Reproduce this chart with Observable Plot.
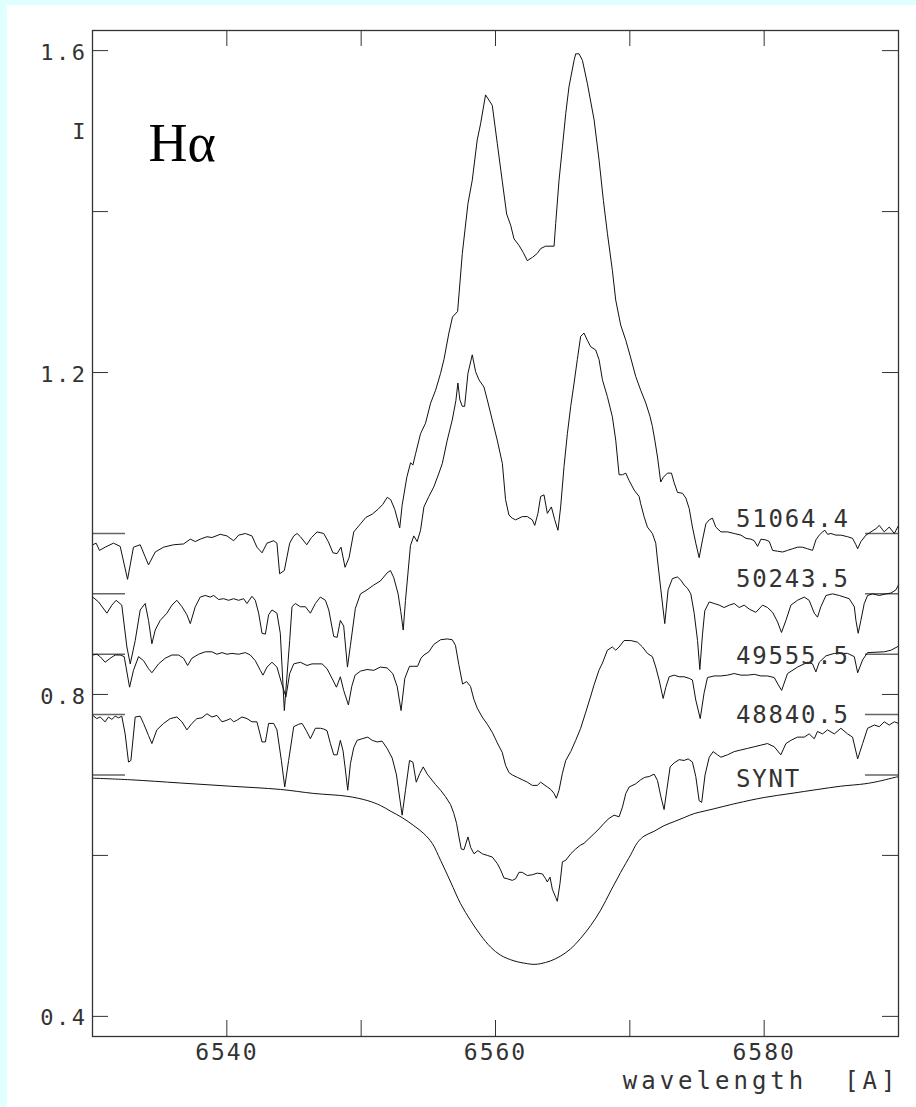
<!DOCTYPE html>
<html><head><meta charset="utf-8">
<script src="https://cdn.jsdelivr.net/npm/d3@7"></script>
<script src="https://cdn.jsdelivr.net/npm/@observablehq/plot@0.6"></script>
<style>
html,body{margin:0;padding:0;background:#e0ffff;width:916px;height:1107px;overflow:hidden;}
#wrap{position:absolute;left:7px;top:5px;width:909px;height:1102px;background:#fff;}
</style></head><body><div id="wrap"></div>
<script>
// ---- data (wavelength [A], normalized intensity) ----
const seriesNames = ["51064.4", "50243.5", "49555.5", "48840.5", "SYNT"];
const seriesOffsets = [0, -0.075, -0.15, -0.225, -0.30];

const spec51064 = [[6530.02,0.986],[6530.27,0.988],[6530.52,0.979],[6530.94,0.983],[6531.56,0.988],[6532.06,0.984],[6532.61,0.943],[6533.05,0.983],[6533.55,0.986],[6533.92,0.971],[6534.17,0.961],[6534.67,0.977],[6535.29,0.983],[6536.03,0.986],[6536.78,0.987],[6537.28,0.993],[6537.65,0.990],[6538.02,0.993],[6538.52,0.996],[6538.89,0.995],[6539.51,0.999],[6540.01,0.997],[6540.51,0.991],[6540.88,0.998],[6541.38,1.000],[6541.87,0.997],[6542.24,0.983],[6542.62,0.976],[6542.99,0.988],[6543.49,0.991],[6543.73,0.988],[6543.93,0.950],[6544.28,0.954],[6544.68,0.988],[6544.98,0.997],[6545.23,1.000],[6545.48,0.996],[6545.95,0.986],[6546.30,0.995],[6546.72,1.002],[6547.21,1.000],[6547.55,0.990],[6547.90,0.976],[6548.20,0.975],[6548.50,0.983],[6548.80,0.958],[6549.10,0.970],[6549.45,1.002],[6549.95,1.012],[6550.35,1.020],[6550.82,1.024],[6551.25,1.030],[6551.60,1.036],[6551.94,1.045],[6552.20,1.042],[6552.50,1.030],[6552.87,1.007],[6553.05,1.035],[6553.40,1.070],[6553.68,1.088],[6553.85,1.085],[6554.05,1.099],[6554.42,1.124],[6554.79,1.137],[6555.17,1.162],[6555.54,1.178],[6555.91,1.199],[6556.16,1.216],[6556.53,1.249],[6556.80,1.269],[6557.18,1.276],[6557.53,1.348],[6557.95,1.410],[6558.27,1.439],[6558.64,1.489],[6558.89,1.509],[6559.26,1.545],[6559.76,1.532],[6560.13,1.485],[6560.51,1.437],[6560.83,1.397],[6561.13,1.383],[6561.38,1.366],[6561.75,1.358],[6562.07,1.349],[6562.37,1.339],[6562.74,1.343],[6563.11,1.348],[6563.36,1.354],[6563.73,1.357],[6564.36,1.357],[6564.48,1.385],[6564.73,1.439],[6564.98,1.480],[6565.23,1.522],[6565.47,1.555],[6565.85,1.588],[6565.97,1.596],[6566.22,1.596],[6566.47,1.588],[6566.84,1.559],[6567.34,1.514],[6567.71,1.464],[6568.03,1.414],[6568.33,1.373],[6568.70,1.327],[6568.95,1.290],[6569.32,1.259],[6569.70,1.240],[6570.07,1.218],[6570.44,1.195],[6570.81,1.178],[6571.19,1.162],[6571.51,1.145],[6571.68,1.133],[6571.86,1.116],[6572.06,1.095],[6572.30,1.064],[6572.50,1.070],[6572.80,1.075],[6573.10,1.075],[6573.30,1.063],[6573.55,1.051],[6573.92,1.050],[6574.17,1.044],[6574.42,1.031],[6574.66,1.008],[6574.91,0.988],[6575.16,0.970],[6575.41,0.992],[6575.66,1.012],[6575.91,1.017],[6576.15,1.019],[6576.40,1.008],[6576.78,1.002],[6577.27,1.002],[6577.77,1.000],[6578.27,0.998],[6578.64,0.994],[6579.01,0.993],[6579.26,0.991],[6579.51,0.984],[6579.76,0.993],[6580.13,0.992],[6580.38,0.990],[6580.63,0.979],[6581.00,0.978],[6581.37,0.977],[6581.74,0.979],[6582.11,0.981],[6582.48,0.983],[6582.86,0.983],[6583.23,0.981],[6583.60,0.979],[6583.85,0.992],[6584.10,0.998],[6584.35,1.002],[6584.52,1.004],[6584.72,0.999],[6584.97,1.000],[6585.34,0.998],[6585.71,0.998],[6586.21,0.996],[6586.58,0.994],[6586.83,0.986],[6586.96,0.981],[6587.20,0.990],[6587.58,0.998],[6587.95,1.002],[6588.32,1.006],[6588.57,1.010],[6588.94,1.002],[6589.31,1.008],[6589.69,1.000],[6590.00,1.010]];

const spec50243 = [[6530.02,0.996],[6530.45,0.990],[6531.07,0.976],[6531.44,0.986],[6531.76,0.992],[6532.18,0.986],[6532.56,0.934],[6532.81,0.913],[6533.18,0.942],[6533.55,0.980],[6533.92,0.988],[6534.17,0.967],[6534.42,0.938],[6534.67,0.955],[6535.04,0.967],[6535.54,0.976],[6535.91,0.986],[6536.28,0.992],[6536.66,0.984],[6537.03,0.974],[6537.28,0.963],[6537.65,0.984],[6538.02,0.996],[6538.39,0.998],[6538.77,0.996],[6539.02,0.998],[6539.39,0.993],[6539.76,0.994],[6540.13,0.992],[6540.51,0.994],[6540.88,0.992],[6541.25,0.994],[6541.50,0.988],[6541.87,0.997],[6542.12,0.992],[6542.37,0.976],[6542.62,0.951],[6542.87,0.950],[6543.11,0.974],[6543.36,0.980],[6543.73,0.976],[6543.98,0.951],[6544.28,0.855],[6544.68,0.942],[6544.85,0.984],[6545.10,0.988],[6545.47,0.984],[6545.85,0.984],[6546.22,0.976],[6546.59,0.988],[6546.96,0.996],[6547.34,0.992],[6547.59,0.980],[6547.96,0.947],[6548.21,0.946],[6548.45,0.967],[6548.70,0.960],[6548.98,0.909],[6549.20,0.936],[6549.57,0.982],[6549.95,1.000],[6550.44,1.005],[6550.94,1.011],[6551.43,1.016],[6551.93,1.026],[6552.18,1.029],[6552.43,1.020],[6552.75,1.000],[6552.95,0.978],[6553.13,0.955],[6553.30,0.992],[6553.67,1.060],[6553.92,1.072],[6554.17,1.065],[6554.42,1.079],[6554.67,1.108],[6555.04,1.121],[6555.41,1.133],[6555.79,1.150],[6556.04,1.162],[6556.41,1.191],[6556.78,1.216],[6557.05,1.240],[6557.20,1.262],[6557.35,1.241],[6557.53,1.233],[6557.70,1.233],[6557.95,1.274],[6558.27,1.297],[6558.52,1.276],[6558.77,1.266],[6559.14,1.257],[6559.39,1.241],[6559.76,1.216],[6560.13,1.191],[6560.51,1.162],[6560.75,1.117],[6561.00,1.098],[6561.25,1.094],[6561.50,1.092],[6561.75,1.094],[6561.99,1.096],[6562.37,1.096],[6562.74,1.092],[6562.92,1.085],[6563.16,1.100],[6563.36,1.121],[6563.61,1.123],[6563.86,1.100],[6564.16,1.108],[6564.41,1.092],[6564.65,1.079],[6564.85,1.108],[6565.10,1.158],[6565.35,1.199],[6565.60,1.233],[6565.85,1.262],[6566.09,1.291],[6566.34,1.320],[6566.59,1.324],[6566.84,1.315],[6567.09,1.307],[6567.46,1.303],[6567.71,1.291],[6567.96,1.266],[6568.33,1.245],[6568.70,1.220],[6568.95,1.191],[6569.20,1.148],[6569.45,1.148],[6569.70,1.150],[6569.94,1.141],[6570.32,1.129],[6570.69,1.121],[6570.81,1.112],[6571.06,1.096],[6571.31,1.083],[6571.68,1.075],[6571.93,1.063],[6572.06,1.042],[6572.31,1.005],[6572.60,0.963],[6572.85,1.005],[6573.17,1.019],[6573.55,1.021],[6573.80,1.017],[6574.04,1.011],[6574.29,1.007],[6574.54,1.000],[6574.79,0.976],[6575.04,0.942],[6575.21,0.906],[6575.41,0.950],[6575.58,0.979],[6575.91,0.990],[6576.28,0.988],[6576.65,0.986],[6577.02,0.983],[6577.40,0.986],[6577.77,0.988],[6578.14,0.983],[6578.51,0.986],[6578.89,0.981],[6579.38,0.977],[6579.88,0.986],[6580.25,0.983],[6580.63,0.977],[6581.00,0.965],[6581.29,0.952],[6581.62,0.967],[6581.99,0.986],[6582.48,0.992],[6582.98,0.996],[6583.35,0.992],[6583.73,0.976],[6583.97,0.971],[6584.22,0.984],[6584.60,0.998],[6585.09,1.000],[6585.59,0.998],[6585.96,0.996],[6586.33,0.994],[6586.71,0.984],[6586.83,0.967],[6587.00,0.951],[6587.20,0.967],[6587.45,0.988],[6587.70,0.998],[6588.07,1.000],[6588.57,0.998],[6589.07,1.000],[6589.44,1.001],[6589.81,1.005],[6590.00,1.011]];

const spec49555 = [[6530.02,0.999],[6530.32,1.000],[6530.57,0.997],[6530.94,0.990],[6531.32,0.995],[6531.69,0.999],[6532.06,0.999],[6532.36,0.997],[6532.76,0.959],[6533.05,0.980],[6533.43,0.997],[6533.80,0.992],[6534.17,0.982],[6534.42,0.977],[6534.92,0.988],[6535.41,0.995],[6535.91,0.999],[6536.41,0.999],[6536.78,0.995],[6537.08,0.986],[6537.40,0.995],[6537.90,1.000],[6538.39,1.003],[6538.89,1.003],[6539.26,1.000],[6539.64,1.002],[6540.01,1.000],[6540.38,1.001],[6540.88,1.000],[6541.38,1.002],[6541.75,0.999],[6542.12,0.992],[6542.49,0.980],[6542.69,0.974],[6542.99,0.984],[6543.36,0.990],[6543.73,0.984],[6544.06,0.965],[6544.40,0.947],[6544.68,0.976],[6544.98,0.988],[6545.47,0.990],[6545.97,0.986],[6546.34,0.988],[6546.72,0.988],[6547.09,0.988],[6547.46,0.982],[6547.83,0.970],[6548.16,0.959],[6548.45,0.972],[6548.70,0.955],[6549.05,0.937],[6549.30,0.960],[6549.55,0.974],[6549.95,0.979],[6550.44,0.981],[6550.94,0.980],[6551.43,0.984],[6551.93,0.983],[6552.35,0.976],[6552.68,0.960],[6552.97,0.930],[6553.25,0.970],[6553.60,0.985],[6553.92,0.985],[6554.20,0.985],[6554.45,0.995],[6554.67,0.999],[6555.04,1.003],[6555.40,1.012],[6555.91,1.018],[6556.40,1.019],[6556.78,1.018],[6557.02,1.011],[6557.27,0.987],[6557.55,0.963],[6557.85,0.966],[6558.14,0.960],[6558.39,0.944],[6558.64,0.933],[6559.01,0.922],[6559.39,0.913],[6559.76,0.903],[6560.13,0.890],[6560.50,0.878],[6560.75,0.862],[6561.00,0.853],[6561.25,0.850],[6561.62,0.847],[6562.00,0.844],[6562.37,0.841],[6562.74,0.837],[6563.11,0.837],[6563.36,0.841],[6563.61,0.838],[6563.86,0.835],[6564.11,0.832],[6564.36,0.827],[6564.53,0.821],[6564.73,0.831],[6564.98,0.852],[6565.23,0.868],[6565.60,0.879],[6565.97,0.893],[6566.34,0.908],[6566.72,0.928],[6567.09,0.948],[6567.34,0.962],[6567.70,0.980],[6567.96,0.989],[6568.33,1.005],[6568.70,1.009],[6568.95,1.005],[6569.20,1.009],[6569.57,1.017],[6570.07,1.017],[6570.57,1.015],[6570.94,1.009],[6571.31,1.001],[6571.68,0.997],[6571.93,0.984],[6572.18,0.968],[6572.48,0.945],[6572.68,0.959],[6572.93,0.972],[6573.30,0.974],[6573.67,0.972],[6574.04,0.972],[6574.42,0.970],[6574.66,0.968],[6574.91,0.943],[6575.24,0.920],[6575.53,0.952],[6575.78,0.971],[6576.28,0.973],[6576.78,0.973],[6577.27,0.974],[6577.77,0.976],[6578.27,0.974],[6578.76,0.974],[6579.26,0.975],[6579.76,0.973],[6580.25,0.973],[6580.75,0.971],[6581.05,0.962],[6581.30,0.955],[6581.74,0.976],[6582.48,0.984],[6583.23,0.990],[6583.60,0.988],[6583.85,0.978],[6584.10,0.990],[6584.60,0.998],[6585.22,1.001],[6586.21,1.001],[6586.71,0.997],[6586.96,0.977],[6587.33,0.993],[6587.70,1.002],[6588.94,1.003],[6589.44,1.005],[6590.00,1.010]];

const spec48840 = [[6530.02,0.999],[6530.32,0.995],[6530.57,0.997],[6530.94,0.991],[6531.19,0.997],[6531.44,0.994],[6531.69,0.998],[6531.94,0.996],[6532.18,0.998],[6532.43,0.976],[6532.68,0.941],[6532.86,0.943],[6533.18,0.997],[6533.55,0.998],[6533.80,0.989],[6534.17,0.974],[6534.42,0.964],[6534.79,0.981],[6535.29,0.989],[6535.79,0.995],[6536.28,0.997],[6536.66,0.991],[6537.03,0.981],[6537.40,0.989],[6537.77,0.995],[6538.15,0.996],[6538.52,1.001],[6538.89,0.997],[6539.26,0.999],[6539.64,0.991],[6540.01,0.993],[6540.26,0.995],[6540.51,0.991],[6540.75,0.993],[6541.13,0.997],[6541.50,0.995],[6541.87,0.991],[6542.24,0.991],[6542.62,0.966],[6542.87,0.966],[6543.11,0.989],[6543.49,0.989],[6543.73,0.981],[6544.06,0.943],[6544.31,0.910],[6544.60,0.943],[6544.98,0.985],[6545.35,0.988],[6545.60,0.989],[6545.92,0.980],[6546.22,0.970],[6546.59,0.983],[6546.97,0.983],[6547.21,0.982],[6547.46,0.980],[6547.71,0.964],[6547.96,0.950],[6548.21,0.950],[6548.45,0.968],[6548.65,0.955],[6548.80,0.935],[6549.00,0.906],[6549.20,0.939],[6549.45,0.959],[6549.70,0.968],[6550.07,0.970],[6550.49,0.972],[6550.82,0.968],[6551.19,0.966],[6551.56,0.967],[6551.93,0.958],[6552.31,0.946],[6552.63,0.925],[6552.88,0.895],[6553.05,0.875],[6553.30,0.906],[6553.60,0.943],[6553.85,0.941],[6554.10,0.916],[6554.37,0.927],[6554.62,0.935],[6554.92,0.926],[6555.20,0.920],[6555.54,0.913],[6555.91,0.906],[6556.28,0.898],[6556.66,0.888],[6556.90,0.877],[6557.10,0.865],[6557.28,0.848],[6557.45,0.833],[6557.65,0.832],[6557.95,0.848],[6558.15,0.835],[6558.40,0.827],[6558.69,0.831],[6559.02,0.827],[6559.39,0.825],[6559.76,0.823],[6560.13,0.815],[6560.38,0.807],[6560.63,0.797],[6560.88,0.796],[6561.25,0.794],[6561.50,0.796],[6561.75,0.804],[6561.99,0.804],[6562.37,0.800],[6562.74,0.801],[6563.11,0.803],[6563.49,0.802],[6563.73,0.796],[6563.86,0.792],[6564.06,0.798],[6564.23,0.783],[6564.48,0.773],[6564.60,0.768],[6564.80,0.790],[6564.98,0.817],[6565.23,0.819],[6565.60,0.827],[6565.97,0.833],[6566.34,0.838],[6566.59,0.840],[6566.96,0.846],[6567.34,0.852],[6567.71,0.858],[6568.08,0.865],[6568.45,0.871],[6568.83,0.875],[6569.20,0.873],[6569.45,0.885],[6569.70,0.902],[6569.95,0.910],[6570.44,0.914],[6570.81,0.919],[6571.11,0.922],[6571.44,0.923],[6571.81,0.926],[6572.06,0.918],[6572.31,0.898],[6572.55,0.882],[6572.75,0.906],[6573.00,0.935],[6573.30,0.940],[6573.67,0.944],[6574.04,0.943],[6574.34,0.945],[6574.66,0.941],[6574.91,0.923],[6575.16,0.893],[6575.35,0.891],[6575.60,0.925],[6575.91,0.947],[6576.20,0.954],[6576.53,0.950],[6576.78,0.947],[6577.27,0.950],[6577.77,0.954],[6578.26,0.956],[6578.76,0.958],[6579.26,0.960],[6579.75,0.962],[6580.25,0.964],[6580.75,0.960],[6581.24,0.950],[6581.62,0.964],[6581.99,0.968],[6582.48,0.972],[6582.98,0.972],[6583.35,0.976],[6583.73,0.970],[6583.97,0.979],[6584.35,0.976],[6584.72,0.981],[6585.22,0.976],[6585.71,0.983],[6586.21,0.976],[6586.58,0.972],[6586.96,0.945],[6587.33,0.964],[6587.70,0.983],[6588.20,0.987],[6588.57,0.985],[6588.94,0.991],[6589.31,0.987],[6589.69,0.991],[6590.00,0.989]];

const specSynt = [[6530.00,0.996],[6532.81,0.994],[6536.53,0.990],[6540.26,0.986],[6543.98,0.982],[6546.47,0.977],[6548.95,0.9735],[6550.50,0.968],[6551.44,0.962],[6552.19,0.955],[6553.05,0.947],[6553.92,0.937],[6554.67,0.927],[6555.29,0.915],[6555.91,0.894],[6556.66,0.867],[6557.40,0.840],[6558.15,0.819],[6558.89,0.801],[6559.64,0.786],[6560.38,0.776],[6561.38,0.769],[6562.37,0.7655],[6562.87,0.7646],[6563.36,0.7655],[6564.11,0.769],[6564.85,0.775],[6565.60,0.784],[6566.34,0.797],[6567.09,0.813],[6567.83,0.832],[6568.58,0.856],[6569.32,0.879],[6570.07,0.901],[6570.57,0.916],[6571.06,0.924],[6571.81,0.930],[6572.55,0.937],[6573.30,0.942],[6574.04,0.947],[6574.79,0.952],[6575.53,0.955],[6576.28,0.958],[6577.00,0.961],[6578.00,0.965],[6580.00,0.972],[6582.00,0.977],[6584.00,0.982],[6585.70,0.986],[6587.50,0.989],[6588.50,0.992],[6589.50,0.996],[6590.00,0.998]];

const spectra = [spec51064, spec50243, spec49555, spec48840, specSynt];

// label placement (intensity of label baseline, wavelength of label start)
const labelX = 6577.9;
const labelY = [1.008, 0.934, 0.838, 0.764, 0.685];

// axes
const xDomain = [6530, 6590];
const yDomain = [0.375, 1.625];
const xTicks = [6540, 6550, 6560, 6570, 6580];
const xTickLabels = [6540, 6560, 6580];
const yTicks = [0.4, 0.6, 0.8, 1.0, 1.2, 1.4, 1.6];
const yTickLabels = [0.4, 0.8, 1.2, 1.6];
const yTitle = "I";
const yTitleAt = 1.5;
const xTitle = "wavelength  [A]";
const lineName = "Hα";

// ---- build ----
const rows = [];
spectra.forEach((s, i) => s.forEach(([wl, f]) => rows.push({series: seriesNames[i], wl, I: f + seriesOffsets[i], synt: i === 4})));
const levels = seriesOffsets.map(o => 1 + o);
const labels = seriesNames.map((n, i) => ({name: n, y: labelY[i]}));

const W = 909, H = 1102;
const mL = 85, mR = 18, mT = 25, mB = 71;
const iw = W - mL - mR, ih = H - mT - mB;
const tick = 16, cmark = 33;
const mono = "DejaVu Sans Mono";

const svg = Plot.plot({
  width: W, height: H,
  marginLeft: mL, marginRight: mR, marginTop: mT, marginBottom: mB,
  style: {background: "white", color: "#222", overflow: "visible"},
  x: {domain: xDomain, axis: null},
  y: {domain: yDomain, axis: null},
  marks: [
    // ticks (inward, all four sides)
    Plot.ruleX(xTicks, {x: d => d, insetTop: ih - tick, stroke: "#333", strokeWidth: 1}),
    Plot.ruleX(xTicks, {x: d => d, insetBottom: ih - tick, stroke: "#333", strokeWidth: 1}),
    Plot.ruleY(yTicks, {y: d => d, insetRight: iw - tick, stroke: "#333", strokeWidth: 1}),
    Plot.ruleY(yTicks, {y: d => d, insetLeft: iw - tick, stroke: "#333", strokeWidth: 1}),
    // continuum level markers
    Plot.ruleY(levels, {y: d => d, insetRight: iw - cmark, stroke: "#666", strokeWidth: 1.5}),
    Plot.ruleY(levels, {y: d => d, insetLeft: iw - cmark, stroke: "#666", strokeWidth: 1.5}),
    // spectra
    Plot.line(rows.filter(d => !d.synt), {x: "wl", y: "I", z: "series", stroke: "#111", strokeWidth: 1}),
    Plot.line(rows.filter(d => d.synt), {x: "wl", y: "I", stroke: "#111", strokeWidth: 1, curve: "catmull-rom"}),
    Plot.frame({stroke: "#333", strokeWidth: 1.3}),
    // curve labels
    Plot.text(labels, {x: () => labelX, y: "y", text: "name", textAnchor: "start", lineAnchor: "bottom",
      fontFamily: mono, fontSize: 24, fill: "#333", ariaDescription: "curve-labels"}),
    // tick labels
    Plot.text(xTickLabels, {x: d => d, text: d => String(d), frameAnchor: "bottom", lineAnchor: "bottom", dy: 23,
      fontFamily: mono, fontSize: 23, fill: "#333", ariaDescription: "xtick-labels"}),
    Plot.text(yTickLabels, {y: d => d, text: d => d.toFixed(1), frameAnchor: "left", textAnchor: "end", lineAnchor: "middle",
      dx: -5, dy: 2, fontFamily: mono, fontSize: 22, fill: "#333", ariaDescription: "ytick-labels"}),
    Plot.text([yTitle], {y: () => yTitleAt, text: d => d, frameAnchor: "left", textAnchor: "end", lineAnchor: "middle",
      dx: -7, dy: 1, fontFamily: mono, fontSize: 22, fill: "#333", ariaDescription: "ytitle"}),
    Plot.text([xTitle], {text: d => d, frameAnchor: "bottom-right", textAnchor: "end", lineAnchor: "bottom",
      dx: 1, dy: 52, fontFamily: mono, fontSize: 24, fill: "#333", ariaDescription: "xtitle"}),
    // line name
    Plot.text([lineName], {text: d => d, frameAnchor: "top-left", textAnchor: "start", lineAnchor: "bottom",
      dx: 56, dy: 130, fontFamily: "Liberation Serif", fontSize: 54, fill: "#000", ariaDescription: "linename"})
  ]
});

const sel = d3.select(svg);
const spacing = (name, px) => sel.selectAll(`[aria-description="${name}"] text`).style("letter-spacing", px);
spacing("curve-labels", "1.8px");
spacing("xtick-labels", "2px");
spacing("ytick-labels", "2.5px");
spacing("xtitle", "4px");
document.getElementById("wrap").appendChild(svg);
</script>
</body></html>
